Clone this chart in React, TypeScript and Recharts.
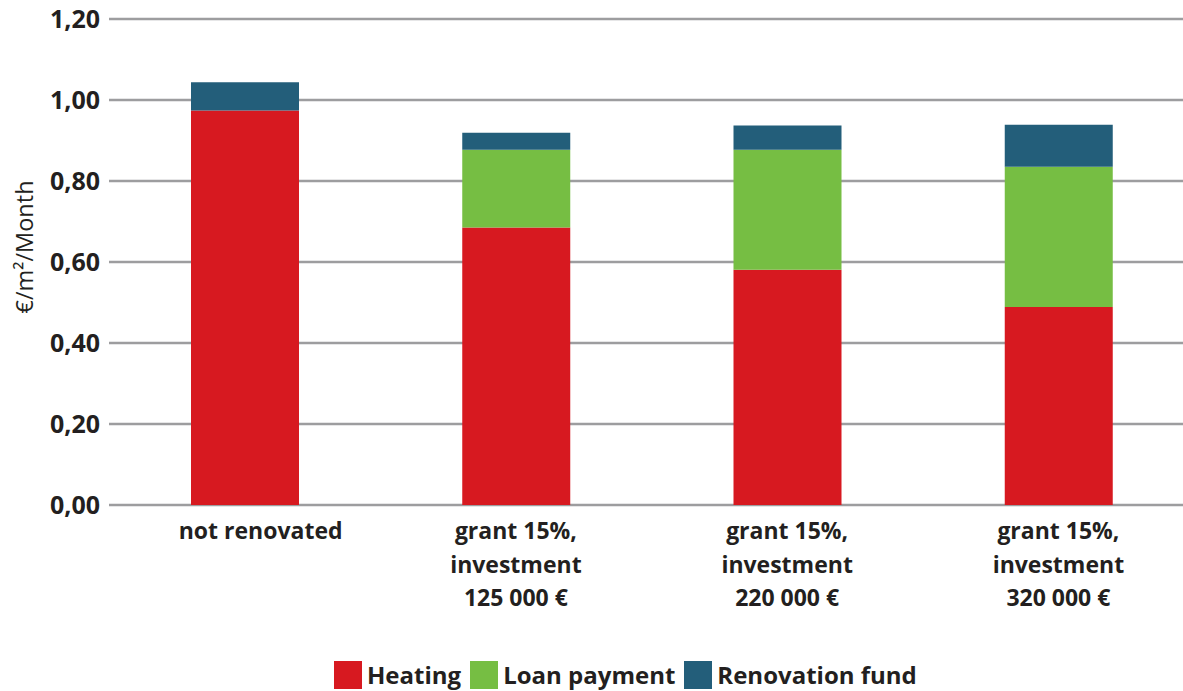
import React from "react";
import { BarChart, Bar, XAxis, YAxis, CartesianGrid, Legend } from "recharts";

const categories = [
  "not renovated",
  "grant 15%,\ninvestment\n125 000 €",
  "grant 15%,\ninvestment\n220 000 €",
  "grant 15%,\ninvestment\n320 000 €",
];
const heating = [0.974, 0.685, 0.581, 0.489];
const loanPayment = [0, 0.192, 0.296, 0.346];
const renovationFund = [0.07, 0.042, 0.06, 0.104];
const yTicks = [0, 0.2, 0.4, 0.6, 0.8, 1.0, 1.2];
const yAxisTitle = "€/m²/Month";

const seriesNames = ["Heating", "Loan payment", "Renovation fund"];
const colors = ["#D71920", "#76BE43", "#235E7A"];

const data = categories.map((c, i) => ({
  name: c,
  heating: heating[i],
  loan: loanPayment[i],
  fund: renovationFund[i],
}));

const FONT = "'Open Sans', sans-serif";
const TEXT = "#231F20";

const XTick = (props: any) => {
  const { x, y, payload, index } = props;
  const lines = String(payload.value).split("\n");
  const shift = index === 0 ? 16 : 0;
  return (
    <g transform={`translate(${x + shift},${y})`}>
      <text textAnchor="middle" fill={TEXT} fontFamily={FONT} fontWeight={700} fontSize={23}>
        {lines.map((l, i) => (
          <tspan key={i} x={0} y={i * 33.5 + 26}>
            {l}
          </tspan>
        ))}
      </text>
    </g>
  );
};

const YTitle = () => (
  <text
    x={33}
    y={247}
    transform="rotate(-90 33 247)"
    textAnchor="middle"
    fill={TEXT}
    fontFamily={FONT}
    fontSize={23.5}
  >
    {yAxisTitle}
  </text>
);

const LegendContent = () => (
  <div
    style={{
      display: "flex",
      alignItems: "flex-start",
      paddingLeft: 334,
      height: 30,
      fontFamily: FONT,
      fontWeight: 700,
      fontSize: 24,
      color: TEXT,
      whiteSpace: "nowrap",
    }}
  >
    {seriesNames.map((n, i) => (
      <div key={n} style={{ display: "flex", alignItems: "flex-start", marginRight: 9 }}>
        <div style={{ width: 28, height: 28, background: colors[i], marginRight: 5, flexShrink: 0 }} />
        <span style={{ lineHeight: "28px", marginTop: 0 }}>{n}</span>
      </div>
    ))}
  </div>
);

export default function App() {
  return (
    <div
      style={{
        position: "absolute",
        left: 0,
        top: 0,
        width: 1183,
        height: 691,
        overflow: "hidden",
        background: "#fff",
      }}
    >
      <BarChart
        width={1194}
        height={691}
        data={data}
        margin={{ top: 19, right: 0, bottom: 0, left: 0 }}
        barSize={108}
      >
        <CartesianGrid vertical={false} stroke="#9D9D9F" strokeWidth={2.5} />
        <XAxis
          dataKey="name"
          axisLine={false}
          tickLine={false}
          interval={0}
          height={156}
          tick={<XTick />}
        />
        <YAxis
          domain={[0, 1.2]}
          ticks={yTicks}
          axisLine={false}
          tickLine={false}
          width={109}
          tickMargin={3}
          tick={{ fill: TEXT, fontFamily: FONT, fontWeight: 700, fontSize: 25 }}
          tickFormatter={(v: number) => v.toFixed(2).replace(".", ",")}
          label={<YTitle />}
        />
        <Legend
          verticalAlign="bottom"
          height={30}
          wrapperStyle={{ left: 0, bottom: 0, width: 1183 }}
          content={<LegendContent />}
        />
        <Bar dataKey="heating" name={seriesNames[0]} stackId="a" fill={colors[0]} isAnimationActive={false} />
        <Bar dataKey="loan" name={seriesNames[1]} stackId="a" fill={colors[1]} isAnimationActive={false} />
        <Bar dataKey="fund" name={seriesNames[2]} stackId="a" fill={colors[2]} isAnimationActive={false} />
      </BarChart>
    </div>
  );
}
